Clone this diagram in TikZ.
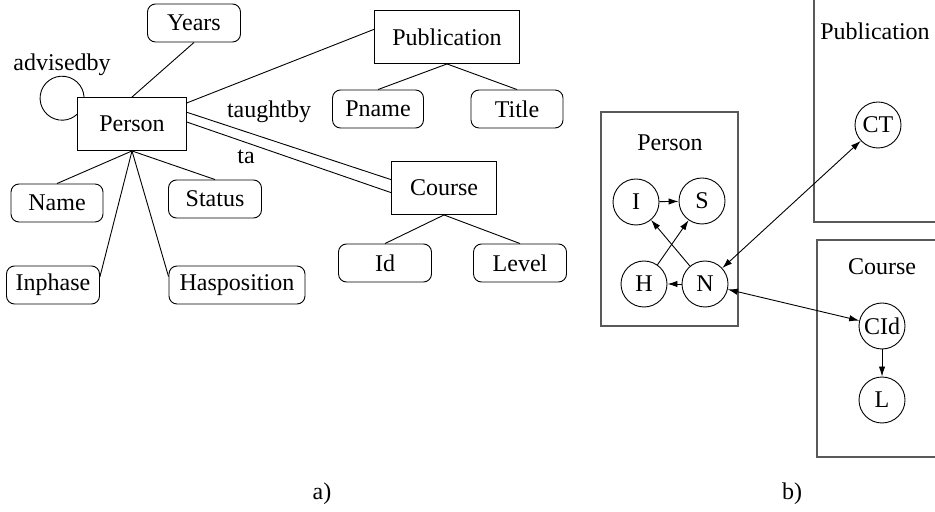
\documentclass[tikz,border=0pt]{standalone}
\usepackage{fontspec}
\setmainfont{Liberation Serif}
\usepackage{tikz}
\usetikzlibrary{calc,arrows.meta}

\begin{document}
\begin{tikzpicture}[x=0.5pt,y=0.5pt,
  every node/.style={font=\fontsize{12}{14}\selectfont},
  ent/.style={draw,rectangle,minimum height=26.5pt},
  attr/.style={draw,rectangle,rounded corners=4pt,minimum height=19pt},
  var/.style={draw,circle,inner sep=0pt,minimum size=23pt},
  plate/.style={draw=black!65,line width=0.7pt},
  arr/.style={-{Latex[length=5pt,width=3.2pt]}},
  darr/.style={{Latex[length=5pt,width=3.2pt]}-{Latex[length=5pt,width=3.2pt]}},
  line width=0.45pt]
\clip (0,0) rectangle (935,-512);
%a) ER diagram
\node[ent,minimum width=54.5pt] (Person) at (132,-124) {Person};
\node[ent,minimum width=72.5pt] (Publication) at (447,-37) {Publication};
\node[ent,minimum width=52.5pt] (Course) at (444,-188) {Course};

\node[attr,minimum width=46.5pt] (Years) at (194,-23) {Years};
\node[attr,minimum width=46pt] (Name) at (57,-203) {Name};
\node[attr,minimum width=46.5pt] (Status) at (215,-199) {Status};
\node[attr,minimum width=46.5pt] (Inphase) at (53,-285) {Inphase};
\node[attr,minimum width=68pt] (Hasposition) at (237,-285) {Hasposition};
\node[attr,minimum width=45.5pt] (Pname) at (378,-109) {Pname};
\node[attr,minimum width=46pt] (Title) at (517,-109) {Title};
\node[attr,minimum width=46.5pt] (Id) at (385,-263) {Id};
\node[attr,minimum width=46.5pt] (Level) at (520,-263) {Level};

\draw (Person.north) -- (Years.south);
\draw (Person.21) -- (Publication.174);
\draw (Person.12) -- (Course.171);
\draw (Person.2) -- (Course.185);
\draw (Person.south) -- (Name.north);
\draw (Person.south) -- (Status.north);
\draw (Person.south) -- (Inphase.10);
\draw (Person.south) -- (Hasposition.173);
\draw (Publication.south) -- (Pname.north);
\draw (Publication.south) -- (Title.north);
\draw (Course.south) -- (Id.north);
\draw (Course.south) -- (Level.north);
%self loop
\draw ($(Person.north west)+(7,0)$) arc[start angle=3,end angle=313,radius=11pt];

\node (advisedby) at (62,-65) {advisedby};
\node (taughtby) at (269,-112) {taughtby};
\node (ta) at (246,-157) {ta};

%b) plates
\draw[plate] (601,-112) rectangle (738,-326);
\draw[plate] (814,10) rectangle (950,-222);
\draw[plate] (817,-240) rectangle (950,-457);
\node (pPerson) at (670,-143) {Person};
\node (pPublication) at (875,-31) {Publication};
\node (pCourse) at (882,-267) {Course};

\node[var] (I) at (636,-202) {I};
\node[var] (S) at (702,-201) {S};
\node[var] (H) at (644,-284) {H};
\node[var] (N) at (705,-284) {N};
\node[var] (CT) at (878,-125) {CT};
\node[var] (CId) at (882,-326) {CId};
\node[var] (L) at (882,-400) {L};

\draw[arr] (I) -- (S);
\draw[arr] (N) -- (I);
\draw[arr] (H) -- (S);
\draw[arr] (N) -- (H);
\draw[darr] (N) -- (CT);
\draw[darr] (N) -- (CId);
\draw[arr] (CId) -- (L);

\node (la) at (322,-494) {a)};
\node (lb) at (792,-494) {b)};
\end{tikzpicture}
\end{document}
